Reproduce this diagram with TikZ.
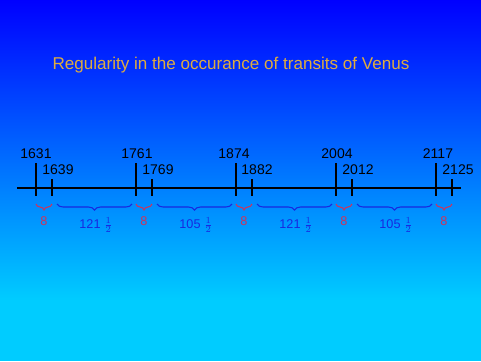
\documentclass[tikz,border=0pt]{standalone}
\usepackage{fontspec}
\setmainfont{Liberation Sans}
\usetikzlibrary{decorations.pathreplacing}
\definecolor{skytop}{RGB}{0,0,255}
\definecolor{skybottom}{RGB}{0,204,255}
\definecolor{titlegold}{RGB}{222,172,64}
\definecolor{gapred}{RGB}{204,52,92}
\definecolor{gapblue}{RGB}{24,40,224}
\tikzset{
  year/.style={font=\fontsize{10.5}{12}\selectfont, text=black, inner sep=0pt},
  ticked/.style={black, line width=0.8pt},
  gapbrace/.style={decorate, decoration={brace, mirror, amplitude=4.5pt}, line width=0.8pt},
  shortgap/.style={gapbrace, gapred},
  longgap/.style={gapbrace, gapblue},
  shortlbl/.style={font=\fontsize{9.5}{11}\selectfont, text=gapred, inner sep=0pt},
  longlbl/.style={font=\fontsize{9.5}{11}\selectfont, text=gapblue, inner sep=0pt}
}
\begin{document}
\begin{tikzpicture}[x=0.75pt,y=-0.75pt]
        \useasboundingbox (0,0) rectangle (481,361);
        % Background
        \fill[top color=skytop, bottom color=skybottom] (0,0) rectangle (481,300);
        \fill[skybottom] (0,300) rectangle (481,361);
        % Title
        \node[font=\fontsize{12.8}{15}\selectfont, text=titlegold] (title) at (231,65)
            {Regularity in the occurance of transits of Venus};
        % Time line
        \coordinate (lstart) at (17,188);
        \coordinate (lend) at (461,188);
        \draw[ticked] (lstart) -- (lend);
        % Ticks (tall = first transit of a pair, short = second)
        \coordinate (b1631) at (36,196);  \coordinate (h1631) at (36,163);
        \coordinate (b1639) at (52,196);  \coordinate (h1639) at (52,179);
        \coordinate (b1761) at (136,196); \coordinate (h1761) at (136,163);
        \coordinate (b1769) at (152,196); \coordinate (h1769) at (152,179);
        \coordinate (b1874) at (236,196); \coordinate (h1874) at (236,163);
        \coordinate (b1882) at (252,196); \coordinate (h1882) at (252,179);
        \coordinate (b2004) at (336,196); \coordinate (h2004) at (336,163);
        \coordinate (b2012) at (352,196); \coordinate (h2012) at (352,179);
        \coordinate (b2117) at (436,196); \coordinate (h2117) at (436,163);
        \coordinate (b2125) at (452,196); \coordinate (h2125) at (452,179);
        \draw[ticked] (h1631) -- (b1631);
        \draw[ticked] (h1639) -- (b1639);
        \draw[ticked] (h1761) -- (b1761);
        \draw[ticked] (h1769) -- (b1769);
        \draw[ticked] (h1874) -- (b1874);
        \draw[ticked] (h1882) -- (b1882);
        \draw[ticked] (h2004) -- (b2004);
        \draw[ticked] (h2012) -- (b2012);
        \draw[ticked] (h2117) -- (b2117);
        \draw[ticked] (h2125) -- (b2125);
        % Years
        \node[year] (y1631) at (36,154) {1631};
        \node[year] (y1639) at (58,170) {1639};
        \node[year] (y1761) at (137,154) {1761};
        \node[year] (y1769) at (158,170) {1769};
        \node[year] (y1874) at (234,154) {1874};
        \node[year] (y1882) at (257,170) {1882};
        \node[year] (y2004) at (337,154) {2004};
        \node[year] (y2012) at (358,170) {2012};
        \node[year] (y2117) at (438,154) {2117};
        \node[year] (y2125) at (458,170) {2125};
        % Gaps between transits
        \coordinate (g1) at (36,204);  \coordinate (g2) at (52,204);
        \coordinate (g3) at (57,204);  \coordinate (g4) at (132,204);
        \coordinate (g5) at (136,204); \coordinate (g6) at (152,204);
        \coordinate (g7) at (157,204); \coordinate (g8) at (232,204);
        \coordinate (g9) at (236,204); \coordinate (g10) at (252,204);
        \coordinate (g11) at (257,204); \coordinate (g12) at (332,204);
        \coordinate (g13) at (336,204); \coordinate (g14) at (352,204);
        \coordinate (g15) at (357,204); \coordinate (g16) at (432,204);
        \coordinate (g17) at (436,204); \coordinate (g18) at (452,204);
        \draw[shortgap] (g1) -- (g2);
        \draw[longgap] (g3) -- (g4);
        \draw[shortgap] (g5) -- (g6);
        \draw[longgap] (g7) -- (g8);
        \draw[shortgap] (g9) -- (g10);
        \draw[longgap] (g11) -- (g12);
        \draw[shortgap] (g13) -- (g14);
        \draw[longgap] (g15) -- (g16);
        \draw[shortgap] (g17) -- (g18);
        % Gap lengths
        \node[shortlbl] (n1) at (44,221) {8};
        \node[longlbl] (n2) at (96,225) {121 $\frac{1}{2}$};
        \node[shortlbl] (n3) at (144,221) {8};
        \node[longlbl] (n4) at (196,225) {105 $\frac{1}{2}$};
        \node[shortlbl] (n5) at (244,221) {8};
        \node[longlbl] (n6) at (296,225) {121 $\frac{1}{2}$};
        \node[shortlbl] (n7) at (344,221) {8};
        \node[longlbl] (n8) at (396,225) {105 $\frac{1}{2}$};
        \node[shortlbl] (n9) at (444,221) {8};
\end{tikzpicture}
\end{document}
